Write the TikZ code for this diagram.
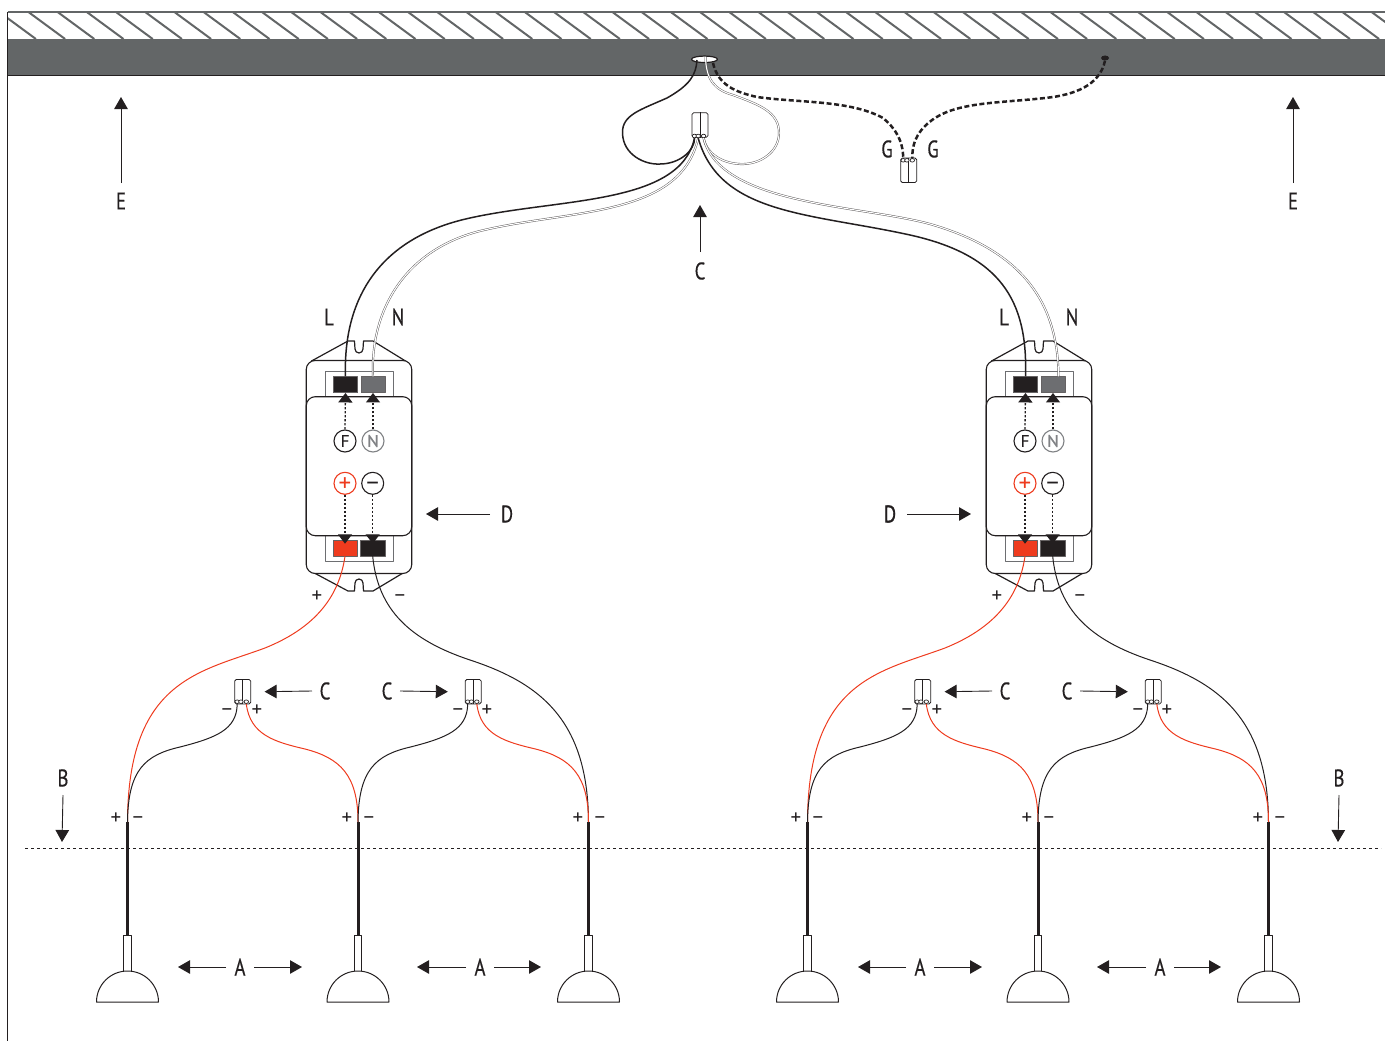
\documentclass[tikz,border=0pt]{standalone}
\usepackage{fontspec}
\setmainfont{PT Sans}
\newfontfamily\lblfont[FakeBold=0.5]{PT Sans}
\newfontfamily\lblboldfont[FakeBold=1.6]{PT Sans}
\usetikzlibrary{arrows.meta,shapes.geometric}
\definecolor{inkk}{HTML}{231F20}
\definecolor{wall}{HTML}{636667}
\definecolor{redw}{HTML}{EE3B1E}
\definecolor{greyt}{HTML}{6D6E71}
\definecolor{greyc}{HTML}{808285}
\tikzset{
 lbl/.style={font=\lblfont\fontsize{24}{24}\selectfont,text=inkk,xscale=.78,inner sep=0pt},
 sgn/.style={font=\fontsize{21}{21}\selectfont,text=inkk,inner sep=0pt,text height=13pt,text depth=0pt},
 arr/.style={draw=inkk,line width=.9pt,-{Triangle[length=12pt,width=13.5pt]}},
 dot/.style={draw=inkk,line width=1.3pt,dash pattern=on 2.4pt off 1.6pt,-{Triangle[length=9.5pt,width=14pt]}},
 blk/.style={draw=inkk,line width=1.5pt},
 thin wire/.style={draw=inkk,line width=1pt},
 red wire/.style={draw=redw,line width=1pt},
 dbl/.style={draw=inkk!75,line width=.45pt,double=white,double distance=1.1pt},
 gnd/.style={draw=inkk,line width=2.5pt,dash pattern=on 5pt off 2.6pt},
 conn/.style={draw=inkk,line width=.8pt,fill=white,rounded corners=1.6pt,minimum width=16pt,minimum height=24.5pt,inner sep=0pt},
 knob/.style={draw=inkk,line width=.7pt,fill=white,ellipse,minimum width=4.5pt,minimum height=3.6pt,inner sep=0pt},
 term/.style={minimum width=24.4pt,minimum height=16pt,inner sep=0pt,draw=inkk!70,line width=.5pt},
 frame/.style={draw=greyt,line width=.9pt,fill=white,minimum width=68pt,minimum height=25.5pt,inner sep=0pt},
 circ/.style={circle,draw,fill=white,line width=1.1pt,minimum size=22pt,inner sep=0pt,font=\lblfont\fontsize{17}{17}\selectfont},
 circb/.style={circ,font=\fontsize{25}{25}\selectfont,text height=16pt,text depth=0pt,text width=14pt,align=center},
 driverbody/.style={draw=inkk,line width=1.1pt,fill=white,rounded corners=9pt,minimum width=105.5pt,inner sep=0pt},
 stem/.style={draw=inkk,line width=.9pt,fill=white,minimum width=7.5pt,minimum height=36pt,inner sep=0pt}
}
% small connector: #1 name, #2 x, #3 y (centre), #4 y offset of the knobs
\newcommand{\Conn}[4]{%
 \node[conn] (#1) at (#2,#3) {};
 \draw[draw=inkk,line width=.8pt] (#1.north) -- (#1.south);
 \node[knob] (#1k1) at (#2-5.5,#3+#4) {};
 \node[knob] (#1k2) at (#2-1.8,#3+#4) {};
 \node[knob] (#1k3) at (#2+3.6,#3+#4) {};
}
% lamp: #1 name, #2 x
\newcommand{\Lamp}[2]{%
 \node[stem] (#1s) at (#2,953) {};
 \coordinate (#1j) at (#2,822);
 \draw[draw=inkk,line width=3pt] (#1j) -- (#1s.north);
 \draw[draw=inkk,line width=1pt,fill=white] (#2-31,1002) arc[start angle=180,end angle=0,radius=31pt] -- cycle;
}
\newcommand{\Group}[1]{%
 % driver
 \draw[draw=inkk,line width=1.2pt,fill=white] (311.5,361) -- (348,341) -- (354.5,341) -- (355,349) arc[start angle=180,end angle=360,radius=4pt] -- (363.5,341) -- (373,341) -- (405.5,361) -- cycle;
 \draw[draw=inkk,line width=1.2pt,fill=white] (311.5,571.5) -- (348,591) -- (354.5,591) -- (355,583) arc[start angle=180,end angle=0,radius=4pt] -- (363.5,591) -- (373,591) -- (405.5,571.5) -- cycle;
 \node[driverbody,minimum height=213pt] (#1body) at (359,467) {};
 \node[frame] (#1ft) at (359,384.5) {};
 \node[frame] (#1fb) at (359,548.2) {};
 \node[driverbody,minimum height=139pt] (#1panel) at (359,466.2) {};
 \node[term,fill=inkk] (#1tl) at (345.5,384.7) {};
 \node[term,fill=greyt] (#1tn) at (373,384.7) {};
 \node[term,fill=redw] (#1tr) at (345,548) {};
 \node[term,fill=inkk] (#1tb) at (372.7,548) {};
 \node[circ,draw=inkk,text=inkk] (#1F) at (345,441) {F};
 \node[circ,draw=greyc,text=greyc] (#1N) at (373,441) {N};
 \node[circb,draw=redw,text=redw] (#1P) at (345,483.3) {+};
 \node[circb,draw=inkk,text=inkk] (#1M) at (372.7,483.3) {−};
 \draw[dot] (#1F.north) -- (#1tl.south);
 \draw[dot] (#1N.north) -- (#1tn.south);
 \draw[dot] (#1P.south) -- ([yshift=-4pt]#1tr.north);
 \draw[dot] (#1M.south) -- ([yshift=-4pt]#1tb.north);
 \node[sgn] (#1pp) at (317,596) {+};
 \node[sgn] (#1pm) at (400,596) {−};
 % lamps
 \Lamp{#1a}{127.5}\Lamp{#1b}{358}\Lamp{#1c}{588.5}
 % small connectors
 \Conn{#1x}{242.7}{691.7}{10}
 \Conn{#1y}{473.2}{691.7}{10}
 % wires
 \draw[red wire] (#1tr.south) .. controls (340,590) and (322,625) .. (265,648) .. controls (200,672) and (128,680) .. (#1aj);
 \draw[thin wire] (#1tb.south) .. controls (378,610) and (410,640) .. (470,660) .. controls (540,683) and (588,720) .. (#1cj);
 \draw[thin wire] (#1xk1.south) .. controls (237,730) and (215,738) .. (180,747) .. controls (145,755) and (128,770) .. (#1aj);
 \draw[red wire] (#1xk3.south) .. controls (250,735) and (275,742) .. (305,749) .. controls (340,758) and (358,775) .. (#1bj);
 \draw[thin wire] (#1yk1.south) .. controls (467.5,730) and (445.5,738) .. (410.5,747) .. controls (375.5,755) and (358.5,770) .. (#1bj);
 \draw[red wire] (#1yk3.south) .. controls (480.5,735) and (505.5,742) .. (535.5,749) .. controls (570.5,758) and (588.5,775) .. (#1cj);
 % signs at the lamps
 \node[sgn] at (116,818) {+};\node[sgn] at (138,818) {−};
 \node[sgn] at (347,818) {+};\node[sgn] at (369,818) {−};
 \node[sgn] at (578,818) {+};\node[sgn] at (600,818) {−};
 \node[sgn] at (227,710) {−};\node[sgn] at (257,710) {+};
 \node[sgn] at (458,710) {−};\node[sgn] at (487,710) {+};
 % letters
 \node[lbl] (#1C1) at (325,691) {C};
 \node[lbl] (#1C2) at (387,691) {C};
 \draw[arr] ([xshift=-13pt]#1C1.center) -- ([xshift=13.5pt]#1x.east);
 \draw[arr] ([xshift=13pt]#1C2.center) -- ([xshift=-17pt]#1y.west);
 \node[lbl] (#1A1) at (240,967) {A};
 \node[lbl] (#1A2) at (480,967) {A};
 \coordinate (#1a1) at (178,967);\coordinate (#1a2) at (302,967);
 \coordinate (#1a3) at (417,967);\coordinate (#1a4) at (541,967);
 \draw[arr] ([xshift=-14pt]#1A1.center) -- (#1a1);
 \draw[arr] ([xshift=14pt]#1A1.center) -- (#1a2);
 \draw[arr] ([xshift=-14pt]#1A2.center) -- (#1a3);
 \draw[arr] ([xshift=14pt]#1A2.center) -- (#1a4);
}
\begin{document}
\begin{tikzpicture}[x=1pt,y=-1pt,line join=round]
\useasboundingbox (0,0) rectangle (1385,1041);
% ceiling
\begin{scope}
 \clip (7.5,12) rectangle (1385,39);
 \foreach \hx in {-30,-0.8,...,1400}
  \draw[draw=wall,line width=2pt] (\hx,12) -- (\hx+36.7,39);
\end{scope}
\fill[wall] (7.5,39) rectangle (1385,76);
\draw[draw=wall,line width=1.2pt] (7.5,12) -- (1385,12);
\draw[draw=inkk,line width=1pt] (7.5,76) -- (1385,76);
\draw[draw=inkk,line width=1pt] (7.5,12) -- (7.5,1041);
% dotted level
\coordinate (la) at (25,848);\coordinate (lb) at (1381,848);
\draw[draw=inkk,line width=.8pt,dash pattern=on 3pt off 3pt] (la) -- (lb);
% groups
\Group{g}
\begin{scope}[xshift=680pt]
\Group{h}
\end{scope}
% ceiling outlet and connectors
\node[ellipse,draw=inkk,fill=white,line width=1.2pt,minimum width=26pt,minimum height=6.5pt,inner sep=0pt] (hole) at (704.5,59.3) {};
\node[ellipse,fill=inkk,minimum width=8pt,minimum height=5pt,inner sep=0pt] (hole2) at (1105,58) {};
\Conn{top}{700}{125}{11}
\Conn{gc}{908.7}{170.3}{-10}
% loop wires
\coordinate (hb) at (697,60);\coordinate (hw) at (705.5,57);\coordinate (hd) at (713,63);
\draw[blk] (hb) .. controls (696,75) and (690,85) .. (667,98) .. controls (640,110) and (622,115) .. (622.5,133) .. controls (623,155) and (645,165) .. (660,164) .. controls (680,164) and (695,150) .. (topk1.south);
\draw[dbl] (hw) .. controls (706,80) and (715,90) .. (733,95) .. controls (760,105) and (779,112) .. (779,133) .. controls (779,152) and (760,165) .. (740,164) .. controls (720,163) and (706,152) .. (topk3.south);
% ground wires
\draw[gnd] (hd) .. controls (718,85) and (735,92) .. (757,97) .. controls (800,103) and (850,100) .. (883,118) .. controls (895,128) and (903,140) .. (gck1.north);
\draw[gnd] (hole2.south) .. controls (1100,85) and (1075,95) .. (1045,98) .. controls (1000,103) and (960,102) .. (935,118) .. controls (920,128) and (912,140) .. (gck3.north);
% mains wires
\draw[blk] (gtl.north) .. controls (343,300) and (378,238) .. (470,218) .. controls (560,198) and (680,205) .. (topk1.south);
\draw[dbl] (gtn.north) .. controls (370,310) and (405,250) .. (480,231) .. controls (570,209) and (680,218) .. (topk2.south);
\draw[blk] (htl.north) .. controls (1028,300) and (1000,255) .. (910,235) .. controls (810,213) and (720,215) .. (topk2.south);
\draw[dbl] ([xshift=5.5pt]htn.north) .. controls (1058,300) and (1020,250) .. (930,224) .. controls (860,205) and (720,205) .. (topk3.south);
% labels
\node[lbl] (E1) at (121,201) {E};
\node[lbl] (E2) at (1293,201) {E};
\coordinate (e1) at (121,97);\coordinate (e2) at (1293,97);
\draw[arr] ([yshift=18pt]E1.center) -- (e1);
\draw[arr] ([yshift=18pt]E2.center) -- (e2);
\node[lbl] (C0) at (700,271) {C};
\coordinate (c0) at (700,205);
\draw[arr] ([yshift=19pt]C0.center) -- (c0);
\node[lbl] (G1) at (887,149) {G};
\node[lbl] (G2) at (933,149) {G};
\node[lbl] (L1) at (329,317) {L};
\node[lbl] (N1) at (398,317) {N};
\node[lbl] (L2) at (1004,317) {L};
\node[lbl] (N2) at (1072,317) {N};
\node[lbl] (D1) at (507,514) {D};
\node[lbl,font=\lblboldfont\fontsize{24}{24}\selectfont] (D2) at (890,514) {D};
\coordinate (d1) at (426,514);\coordinate (d2) at (971,514);
\draw[arr] ([xshift=-17pt]D1.center) -- (d1);
\draw[arr] ([xshift=17pt]D2.center) -- (d2);
\node[lbl] (B1) at (63,778) {B};
\node[lbl] (B2) at (1339,778) {B};
\coordinate (b1) at (62,842);\coordinate (b2) at (1338,842);
\draw[arr] ([yshift=-17pt]B1.center) -- (b1);
\draw[arr] ([yshift=-17pt]B2.center) -- (b2);
\end{tikzpicture}
\end{document}
